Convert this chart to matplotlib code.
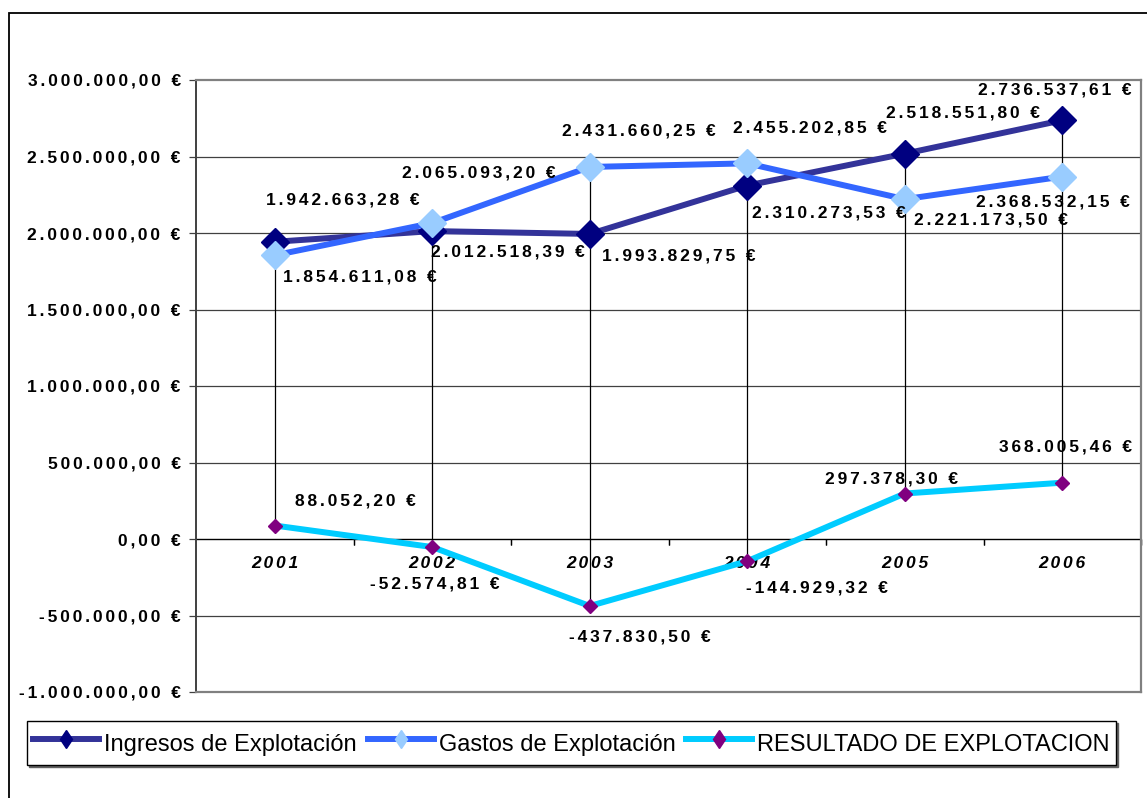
import matplotlib
matplotlib.use('Agg')
import matplotlib.pyplot as plt
from matplotlib import font_manager
from matplotlib.lines import Line2D
from matplotlib.patches import Rectangle

years = ['2001', '2002', '2003', '2004', '2005', '2006']
ingresos = [1942663.28, 2012518.39, 1993829.75, 2310273.53, 2518551.80, 2736537.61]
gastos = [1854611.08, 2065093.20, 2431660.25, 2455202.85, 2221173.50, 2368532.15]
resultado = [88052.20, -52574.81, -437830.50, -144929.32, 297378.30, 368005.46]
series_names = ['Ingresos de Explotación', 'Gastos de Explotación', 'RESULTADO DE EXPLOTACION']
y_ticks = [-1000000, -500000, 0, 500000, 1000000, 1500000, 2000000, 2500000, 3000000]

# label offsets in pixels (dx, dy) from each point
off_ing = [(68, 42), (76, -21), (89, -22), (82, -27), (58, 41), (-8, 30)]
off_gas = [(85, -22), (47, 50), (49, 36), (63, 35), (86, -21), (-9, -25)]
off_res = [(81, 25), (3, -37), (50, -31), (70, -27), (-13, 15), (3, 36)]

names = {f.name for f in font_manager.fontManager.ttflist}
LBL = ['Liberation Sans', 'DejaVu Sans']
LEG = 'Liberation Sans Narrow' if 'Liberation Sans Narrow' in names else 'Liberation Sans'
FS = 12.5


def euro(v):
    s = f"{v:,.2f}".replace(',', 'X').replace('.', ',').replace('X', '.')
    return s + ' €'


def track(s):
    # widen letter spacing with six-per-em spaces
    return '\u2006'.join(s)


W, H = 1147, 798
fig = plt.figure(figsize=(W / 100, H / 100), dpi=100)
ax = fig.add_axes([196 / W, 1 - 692 / H, (1141 - 196) / W, (692 - 80) / H])

x = list(range(1, 7))
ax.set_xlim(0.5, 6.5)
ax.set_ylim(-1000000, 3000000)

# gridlines
for t in y_ticks[1:-1]:
    ax.axhline(t, color='#000000' if t == 0 else '#404040', lw=1.0 if t == 0 else 0.9, zorder=1)

# hi-lo lines
for i in range(6):
    vals = [ingresos[i], gastos[i], resultado[i]]
    ax.plot([x[i], x[i]], [min(vals), max(vals)], color='black', lw=0.9, zorder=2)

ax.plot(x, ingresos, color='#333399', lw=4.3, marker='D', ms=14.5, mfc='#000080', mec='#000080',
        zorder=3, solid_joinstyle='miter')
ax.plot(x, gastos, color='#3366FF', lw=4.3, marker='D', ms=14.5, mfc='#99CCFF', mec='#99CCFF',
        zorder=4, solid_joinstyle='miter')
ax.plot(x, resultado, color='#00CCFF', lw=4.3, marker='D', ms=7.5, mfc='#800080', mec='#800080',
        zorder=5, solid_joinstyle='miter')

for vals, offs in ((ingresos, off_ing), (gastos, off_gas), (resultado, off_res)):
    for xi, v, (dx, dy) in zip(x, vals, offs):
        ax.annotate(track(euro(v)), (xi, v), xytext=(dx, dy), textcoords='offset pixels',
                    ha='center', va='center', fontsize=FS, fontweight='bold', family=LBL,
                    zorder=6)

# category labels below the zero line
for xi, yr in zip(x, years):
    ax.annotate(track(yr), (xi, 0), xytext=(0, -25), textcoords='offset pixels',
                ha='center', va='center', fontsize=FS, fontweight='bold', style='italic',
                family=LBL)
# category boundary ticks on zero line
for b in [1.5, 2.5, 3.5, 4.5, 5.5, 6.5]:
    ax.plot([b, b], [0, 0], marker=3, ms=4, color='black', mew=0.9, clip_on=False)

ax.set_xticks([])
ax.set_yticks(y_ticks)
ax.set_yticklabels([track(euro(t)) for t in y_ticks], fontsize=FS, fontweight='bold', family=LBL)
ax.tick_params(axis='y', length=5, width=0.9, pad=6, color='#404040')

for side in ['top', 'right', 'bottom']:
    ax.spines[side].set_color('#808080')
    ax.spines[side].set_linewidth(1.6)
ax.spines['left'].set_color('#404040')
ax.spines['left'].set_linewidth(1.4)

# outer chart border
fig.patches.append(Rectangle((9 / W, -0.1), 1.2, 1.1 - 13 / H, transform=fig.transFigure,
                             fill=False, ec='black', lw=1.3))

handles = [
    Line2D([], [], color='#333399', lw=4.3, marker='d', ms=9.5, mfc='#000080', mec='#000080'),
    Line2D([], [], color='#3366FF', lw=4.3, marker='d', ms=9.5, mfc='#99CCFF', mec='#99CCFF'),
    Line2D([], [], color='#00CCFF', lw=4.3, marker='d', ms=9.5, mfc='#800080', mec='#800080'),
]
fs = 20 if LEG == 'Liberation Sans Narrow' else 17
fpx = fs * 100 / 72
leg = fig.legend(handles, series_names, loc='upper left', ncol=3,
                 bbox_to_anchor=(27 / W, 1 - 721 / H), prop={'family': LEG, 'size': fs},
                 frameon=True, fancybox=False, edgecolor='black', borderpad=0.25,
                 handleheight=1.7, handlelength=66 / fpx, handletextpad=5 / fpx,
                 columnspacing=11 / fpx, borderaxespad=0,
                 shadow={'ox': 1.5, 'oy': -1.5, 'color': '#606060', 'alpha': 1})
leg.get_frame().set_linewidth(1.0)

fig.savefig('out.png', dpi=100)
